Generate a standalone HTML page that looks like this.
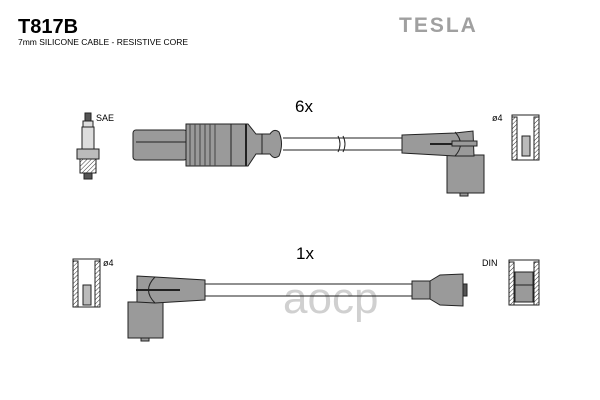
<!DOCTYPE html>
<html><head><meta charset="utf-8"><style>
html,body{margin:0;padding:0;background:#fff;width:600px;height:400px;overflow:hidden}
svg{display:block}
</style></head><body>
<svg width="600" height="400" viewBox="0 0 600 400" xmlns="http://www.w3.org/2000/svg" font-family="Liberation Sans, sans-serif">
<defs>
<pattern id="h" width="3" height="3" patternUnits="userSpaceOnUse" patternTransform="rotate(45)"><line x1="0" y1="0" x2="0" y2="3" stroke="#333" stroke-width="1"/></pattern>
</defs>
<text x="18" y="33" font-size="20" font-weight="bold">T817B</text>
<text x="18" y="45" font-size="8.5">7mm SILICONE CABLE - RESISTIVE CORE</text>
<text x="399" y="32" font-size="21" font-weight="bold" fill="#a0a0a0" letter-spacing="2">TESLA</text>
<text x="295" y="112" font-size="17">6x</text>
<text x="296" y="259" font-size="17">1x</text>
<text x="96" y="121" font-size="9">SAE</text>
<text x="492" y="121" font-size="9">ø4</text>
<text x="103" y="266" font-size="9">ø4</text>
<text x="482" y="266" font-size="9">DIN</text>
<text x="283" y="313" font-size="44" fill="#d0d0d0">aocp</text>

<g stroke="#222" stroke-width="1" fill="#9a9a9a">
<rect x="85" y="113" width="6" height="8" fill="#555"/>
<rect x="83" y="121" width="10" height="6" fill="#ddd"/>
<rect x="82" y="127" width="12" height="22" fill="#ddd"/>
<rect x="77" y="149" width="22" height="10" fill="#bbb"/>
<rect x="80" y="159" width="16" height="14" fill="url(#h)"/>
<rect x="84" y="173" width="8" height="6" fill="#555"/>
<line x1="283" y1="138" x2="402" y2="138"/>
<line x1="283" y1="150" x2="402" y2="150"/>
<path d="M338 136 q4 8 0 16 M343 136 q4 8 0 16" fill="none"/>
<rect x="133" y="130" width="54" height="30" rx="3"/>
<line x1="136" y1="142" x2="186" y2="142"/>
<rect x="186" y="124" width="45" height="42"/>
<g stroke="#444"><line x1="190" y1="124" x2="190" y2="166"/><line x1="195" y1="124" x2="195" y2="166"/><line x1="200" y1="124" x2="200" y2="166"/><line x1="205" y1="124" x2="205" y2="166"/><line x1="210" y1="124" x2="210" y2="166"/><line x1="215" y1="124" x2="215" y2="166"/></g>
<path d="M231 124 L248 124 L256 134 L262 134 L262 154 L256 154 L248 166 L231 166 Z"/>
<line x1="246" y1="124" x2="246" y2="166" stroke-width="2"/>
<path d="M262 134 L270 134 Q274 128 279 132 Q284 144 279 156 Q274 160 270 154 L262 154 Z"/>
<rect x="447" y="155" width="37" height="38"/>
<rect x="460" y="193" width="8" height="3"/>
<path d="M402 135 L455 133 L473 131 L474 156 L455 156 L402 153 Z"/>
<path d="M455 132 Q466 144 455 156" fill="none"/>
<line x1="430" y1="144" x2="475" y2="144" stroke-width="2"/>
<rect x="452" y="141" width="25" height="5"/>
<rect x="512" y="115" width="27" height="45" fill="#fff"/>
<rect x="512" y="117" width="5" height="43" fill="url(#h)"/>
<rect x="534" y="117" width="5" height="43" fill="url(#h)"/>
<rect x="522" y="136" width="8" height="20" fill="#bbb"/>
<rect x="73" y="259" width="27" height="48" fill="#fff"/>
<rect x="73" y="261" width="5" height="46" fill="url(#h)"/>
<rect x="95" y="261" width="5" height="46" fill="url(#h)"/>
<rect x="83" y="285" width="8" height="20" fill="#bbb"/>
<line x1="205" y1="284" x2="412" y2="284"/>
<line x1="205" y1="296" x2="412" y2="296"/>
<rect x="128" y="302" width="35" height="36"/>
<rect x="141" y="338" width="8" height="3"/>
<path d="M137 276 L155 277 L205 280 L205 300 L155 303 L137 302 Z"/>
<path d="M155 277 Q142 290 155 303" fill="none"/>
<line x1="136" y1="290" x2="180" y2="290" stroke-width="2"/>
<rect x="412" y="281" width="18" height="18"/>
<path d="M430 281 L440 275 L463 274 L463 306 L440 305 L430 299 Z"/>
<rect x="463" y="284" width="4" height="12" fill="#555"/>
<rect x="509" y="260" width="30" height="45" fill="#fff"/>
<rect x="509" y="262" width="5" height="43" fill="url(#h)"/>
<rect x="534" y="262" width="5" height="43" fill="url(#h)"/>
<rect x="515" y="272" width="18" height="30" fill="#9a9a9a"/>
<line x1="515" y1="285" x2="533" y2="285"/>
</g>
</svg>
</body></html>
